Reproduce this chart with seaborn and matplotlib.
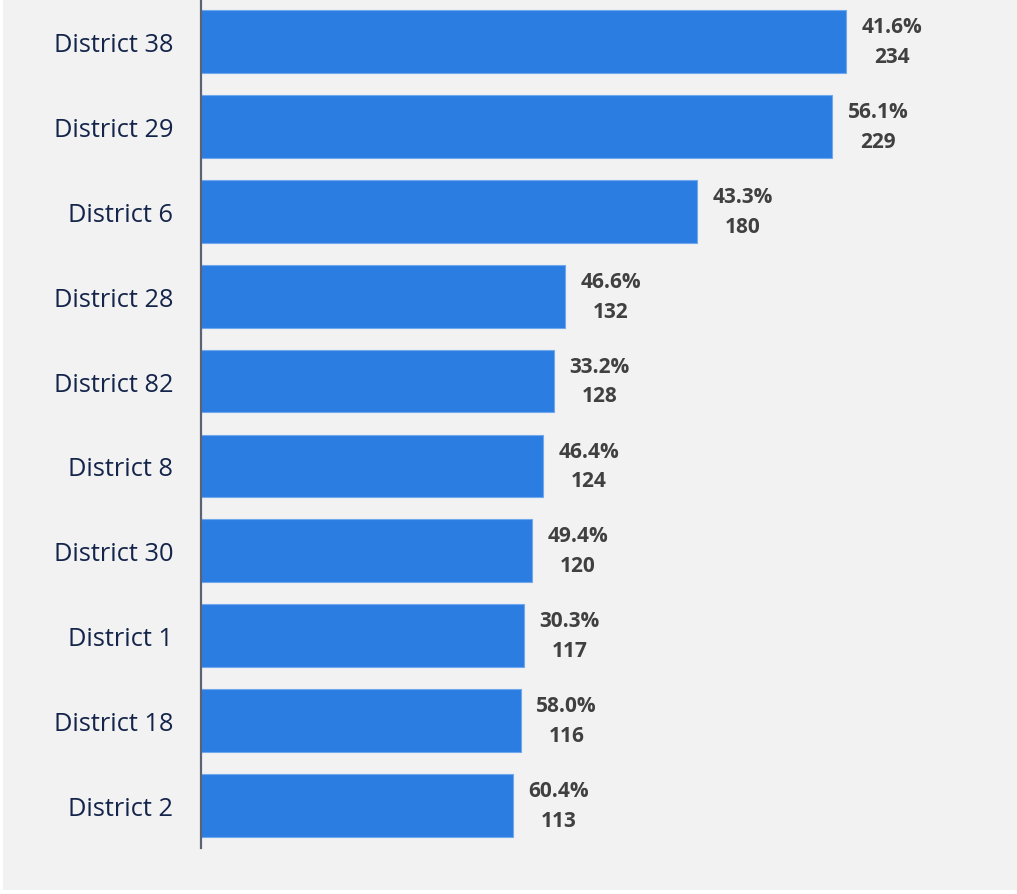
import matplotlib
matplotlib.use("Agg")
import matplotlib.pyplot as plt
import matplotlib.patches as mpatches
import seaborn as sns
import pandas as pd

districts = ["District 38", "District 29", "District 6", "District 28", "District 82",
             "District 8", "District 30", "District 1", "District 18", "District 2"]
counts = [234, 229, 180, 132, 128, 124, 120, 117, 116, 113]
shares = ["41.6%", "56.1%", "43.3%", "46.6%", "33.2%", "46.4%", "49.4%", "30.3%", "58.0%", "60.4%"]

df = pd.DataFrame({"district": districts, "count": counts, "share": shares})

sns.set_theme(style="white")
plt.rcParams["font.family"] = ["Open Sans", "DejaVu Sans"]

bg = "#f2f2f2"
fig = plt.figure(figsize=(10.17, 8.95), dpi=100, facecolor="white")
# light panel behind the chart, with a thin white edge on the left and bottom
fig.patches.append(mpatches.Rectangle((3 / 1017, 4 / 895), 1, 1, transform=fig.transFigure,
                                      facecolor=bg, edgecolor="none", zorder=-10))
ax = fig.add_axes([201 / 1017, 46 / 895, 1 - 201 / 1017, 1 - 46 / 895])
ax.set_facecolor(bg)

sns.barplot(data=df, y="district", x="count", order=districts, orient="h",
            color="#2b7de1", saturation=1, width=0.74, edgecolor="#6fa8ec",
            linewidth=0.8, ax=ax)

ax.set_xlim(0, 296)
ax.set_ylim(9.5, -0.5)
ax.set_xlabel("")
ax.set_ylabel("")
ax.set_xticks([])
ax.tick_params(axis="y", length=0, pad=20, labelsize=18.3, labelcolor="#14244a")
for side in ["top", "right", "bottom"]:
    ax.spines[side].set_visible(False)
ax.spines["left"].set_color("#5b6372")
ax.spines["left"].set_linewidth(1.6)

for i, (c, s) in enumerate(zip(counts, shares)):
    ax.annotate(f"{s}\n{c}", xy=(c, i), xytext=(33, 0), textcoords="offset points",
                ha="center", va="center", fontsize=15, fontweight="bold",
                color="#404040", linespacing=1.55)

fig.savefig("out.png", dpi=100, facecolor="white")
